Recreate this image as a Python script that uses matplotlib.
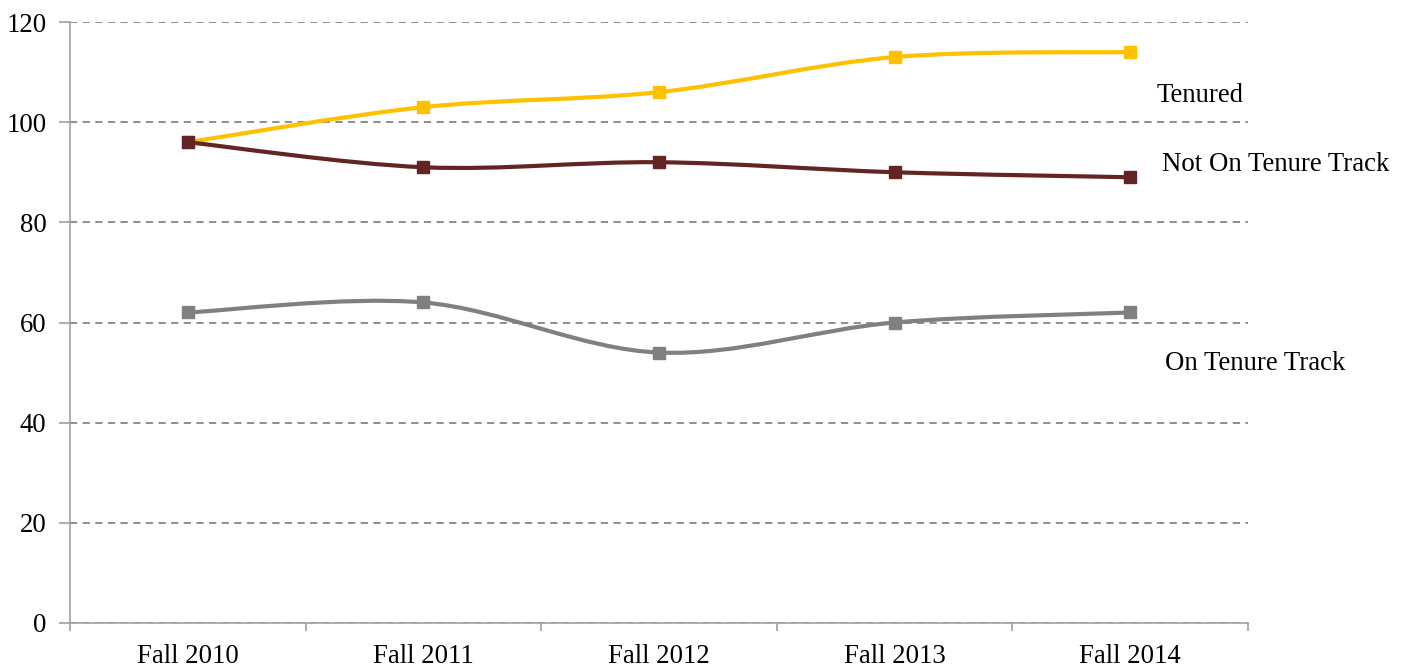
import matplotlib
matplotlib.use('Agg')
import matplotlib.pyplot as plt
import numpy as np
from matplotlib.path import Path
from matplotlib.patches import PathPatch

years = ['Fall 2010', 'Fall 2011', 'Fall 2012', 'Fall 2013', 'Fall 2014']
tenured = [96, 103, 106, 113, 114]
not_on_track = [96, 91, 92, 90, 89]
on_track = [62, 64, 54, 60, 62]

series = [
  ('Tenured', tenured, '#FFC000', (4.11, 105.4)),
  ('Not On Tenure Track', not_on_track, '#632523', (4.135, 91.6)),
  ('On Tenure Track', on_track, '#808080', (4.148, 51.9)),
]


def smooth_path(xs, ys):
  # excel-like smoothed line: catmull-rom segments as cubic beziers
  pts = np.column_stack([xs, ys]).astype(float)
  n = len(pts)
  verts = [pts[0]]
  codes = [Path.MOVETO]
  for i in range(n - 1):
    p_prev = pts[max(i - 1, 0)]
    p0 = pts[i]
    p1 = pts[i + 1]
    p_next = pts[min(i + 2, n - 1)]
    c1 = p0 + (p1 - p_prev) / 6.0
    c2 = p1 - (p_next - p0) / 6.0
    verts += [c1, c2, p1]
    codes += [Path.CURVE4] * 3
  return Path(verts, codes)


plt.rcParams['font.family'] = ['Liberation Serif', 'DejaVu Serif']
fs = 19.3

fig = plt.figure(figsize=(14.04, 6.68), dpi=100)
ax = fig.add_axes([70 / 1404, 45 / 668, 1178 / 1404, 601 / 668])

x = np.arange(len(years))
for name, vals, color, (tx, ty) in series:
  ax.add_patch(PathPatch(smooth_path(x, vals), facecolor='none',
                         edgecolor=color, lw=3, zorder=3))
  ax.plot(x, vals, linestyle='none', marker='s', markersize=8,
          color=color, zorder=4)
  ax.text(tx, ty, name, fontsize=fs, va='center', ha='left',
          clip_on=False)

ax.set_xlim(-0.5, 4.5)
ax.set_ylim(0, 120)
ax.set_yticks(range(0, 121, 20))
ax.set_xticks(x)
ax.set_xticklabels(years)
ax.set_xticks(np.arange(-0.5, 4.6, 1), minor=True)
ax.tick_params(axis='x', which='major', length=0, pad=15, labelsize=fs)
ax.tick_params(axis='x', which='minor', length=6, color='#A0A0A0', width=1.2)
ax.tick_params(axis='y', length=8, color='#A0A0A0', width=1.2, pad=9,
               labelsize=fs)

ax.grid(axis='y', color='#868686', linestyle=(0, (4, 3)), lw=1.3)
ax.set_axisbelow(True)
for side in ['top', 'right']:
  ax.spines[side].set_visible(False)
for side in ['left', 'bottom']:
  ax.spines[side].set_color('#A0A0A0')
  ax.spines[side].set_linewidth(1.2)

fig.savefig('out.png', dpi=100)
